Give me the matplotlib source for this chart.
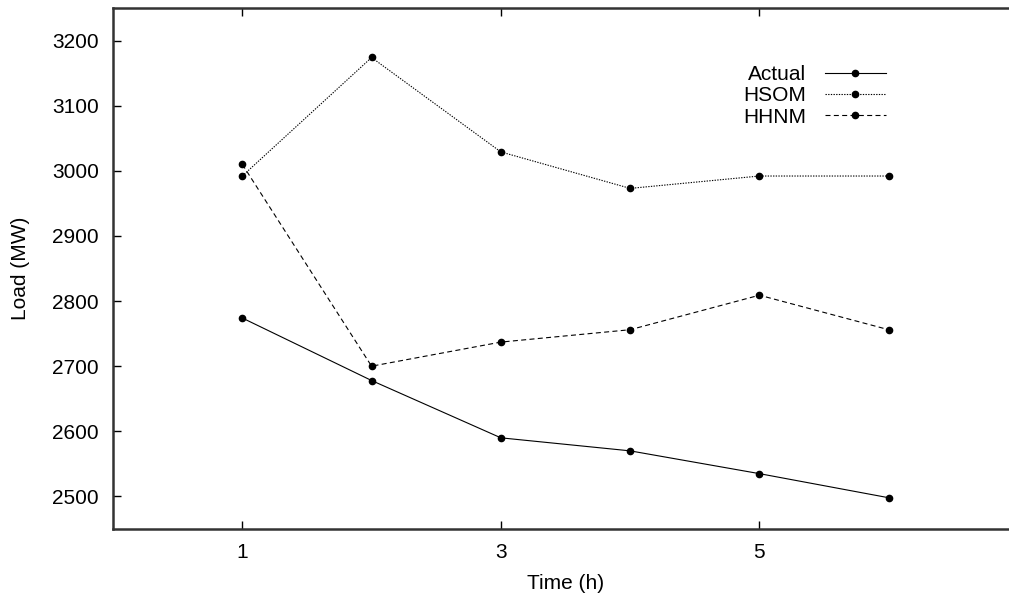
import matplotlib
matplotlib.use("Agg")
import matplotlib.pyplot as plt

# =====================================================
# DATA
# =====================================================

hours = [1, 2, 3, 4, 5, 6]

actual = [2774, 2678, 2590, 2570, 2535, 2498]
hsom = [2992, 3174, 3029, 2973, 2992, 2992]
hhnm = [3010, 2700, 2737, 2756, 2809, 2756]

x_ticks = [1, 3, 5]
y_ticks = [2500, 2600, 2700, 2800, 2900, 3000, 3100, 3200]

# =====================================================
# FIGURE
# =====================================================

plt.rcParams["font.family"] = ["Liberation Sans", "DejaVu Sans"]
plt.rcParams["font.size"] = 15

fig = plt.figure(figsize=(10.09, 6.0), dpi=100)

# axes box runs past the right edge of the picture, like the reference
ax = fig.add_axes([113 / 1009, 71 / 600, 905 / 1009, 521 / 600])

common = dict(color="black", linewidth=0.8, marker="o", markersize=4.5)

ax.plot(hours, actual, linestyle="-", label="Actual", **common)
ax.plot(hours, hsom, linestyle=(0, (1.2, 1.2)), label="HSOM", **common)
ax.plot(hours, hhnm, linestyle=(0, (4.5, 3)), label="HHNM", **common)

ax.set_xlim(0, 7)
ax.set_ylim(2450, 3250)

ax.set_xticks(x_ticks)
ax.set_yticks(y_ticks)

ax.tick_params(direction="in", length=6, width=1, top=True, right=True,
               pad=10, labelsize=15)

for s in ax.spines.values():
    s.set_linewidth(1.8)
    s.set_color("#333333")
ax.spines["right"].set_visible(False)

ax.set_xlabel("Time (h)", fontsize=15, labelpad=9)
ax.set_ylabel("Load (MW)", fontsize=15, labelpad=16)

ax.legend(
    loc="upper left",
    bbox_to_anchor=(733 / 1009, 1 - 55 / 600),
    bbox_transform=fig.transFigure,
    frameon=False,
    markerfirst=False,
    handlelength=2.9,
    handletextpad=0.9,
    labelspacing=0.1,
    borderpad=0,
    fontsize=15,
)

fig.savefig("out.png", dpi=100)
